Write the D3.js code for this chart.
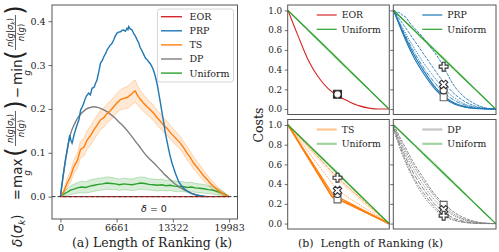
<!DOCTYPE html>
<html>
<head>
<meta charset="utf-8">
<script src="https://cdn.jsdelivr.net/npm/d3@7"></script>
<style>
  body { margin: 0; background: #fff; }
  svg { display: block; }
  text { font-family: "DejaVu Serif", serif; fill: #222; }
  .axis path.domain { display: none; }
  .axis line { stroke: #444; stroke-width: 0.8; }
</style>
</head>
<body>
<svg id="chart" width="499" height="252"></svg>
<script>
// ---- data: panel (a), delta vs ranking length ----
const N = 19983;
const kTicks = [0, 6661, 13322, 19983];
const deltaTicks = [0.0, 0.1, 0.2, 0.3, 0.4];
const seriesNames = ['EOR', 'PRP', 'TS', 'DP', 'Uniform'];
const seriesColors = ['#d62728', '#1f77b4', '#ff7f0e', '#7f7f7f', '#2ca02c'];

const eorDelta = [[0, 0], [19983, 0]];
const prpDelta = [[0,0],[300,0.045],[600,0.084],[900,0.118],[1100,0.14],[1250,0.128],[1380,0.122],[1450,0.127],
  [1600,0.14],[1780,0.152],[2000,0.165],[2200,0.176],[2400,0.198],[2600,0.205],[2800,0.215],[2950,0.224],
  [3100,0.23],[3350,0.236],[3550,0.232],[3750,0.247],[4000,0.25],[4150,0.258],[4330,0.266],[4550,0.285],
  [4740,0.304],[4950,0.31],[5140,0.319],[5350,0.326],[5540,0.335],[5750,0.341],[5920,0.346],[6100,0.349],
  [6310,0.357],[6500,0.366],[6710,0.373],[6900,0.375],[7110,0.376],[7300,0.379],[7490,0.38],[7700,0.377],
  [7890,0.384],[8000,0.381],[8100,0.388],[8250,0.383],[8490,0.38],[8700,0.371],[8890,0.366],[9100,0.357],
  [9270,0.351],[9450,0.34],[9670,0.332],[9850,0.325],[10070,0.316],[10250,0.313],[10470,0.307],[10650,0.303],
  [10850,0.296],[11050,0.287],[11250,0.274],[11450,0.258],[11650,0.236],[11850,0.214],[12050,0.19],
  [12250,0.168],[12430,0.145],[12630,0.126],[12830,0.107],[13030,0.09],[13230,0.076],[13430,0.064],
  [13630,0.053],[13830,0.043],[14010,0.034],[14300,0.026],[14610,0.019],[15000,0.013],[15410,0.008],
  [16000,0.004],[16590,0.002],[17400,0.0]];
const tsDelta = [[0,0],[400,0.012],[800,0.031],[1200,0.046],[1580,0.068],[2000,0.082],[2370,0.107],[2800,0.113],
  [3160,0.129],[3560,0.139],[3960,0.152],[4350,0.163],[4740,0.175],[5140,0.18],[5540,0.19],[5920,0.196],
  [6310,0.205],[6710,0.214],[7110,0.221],[7500,0.224],[7900,0.226],[8300,0.232],[8690,0.239],[8870,0.241],
  [9100,0.232],[9470,0.222],[9870,0.213],[10270,0.205],[10650,0.198],[11050,0.19],[11450,0.18],[11850,0.172],
  [12230,0.163],[12630,0.156],[13030,0.146],[13430,0.138],[13810,0.13],[14210,0.122],[14610,0.111],
  [15000,0.099],[15400,0.089],[15790,0.076],[16190,0.067],[16590,0.057],[16990,0.047],[17390,0.039],
  [17780,0.03],[18180,0.023],[18570,0.016],[18950,0.011],[19400,0.005],[19983,0]];
const tsSpread = [0,0.005,0.01,0.013,0.015,0.017,0.019,0.02,0.021,0.022,0.022,0.022,0.022,0.022,0.022,0.022,
  0.022,0.022,0.023,0.024,0.025,0.026,0.026,0.025,0.022,0.02,0.019,0.018,0.018,0.017,0.017,0.017,
  0.016,0.016,0.016,0.016,0.015,0.015,0.015,0.015,0.014,0.014,0.013,0.013,0.012,0.011,0.01,0.009,0.007,0.006,0.004,0];
const uniformDelta = [[0,0],[400,0.006],[800,0.01],[1200,0.015],[1600,0.017],[2000,0.02],[2500,0.022],[3000,0.021],
  [3500,0.024],[4000,0.026],[4500,0.028],[5000,0.029],[5500,0.031],[6000,0.03],[6500,0.029],[7000,0.027],
  [7500,0.029],[8000,0.028],[8500,0.027],[9000,0.029],[9500,0.031],[10000,0.03],[10500,0.028],[11000,0.027],
  [11500,0.026],[12000,0.027],[12500,0.025],[13000,0.026],[13500,0.024],[14000,0.023],[14500,0.023],
  [15000,0.021],[15500,0.022],[16000,0.02],[16500,0.019],[17000,0.018],[17500,0.016],[18000,0.015],
  [18500,0.012],[19000,0.009],[19500,0.005],[19983,0]];
const uniformSpread = [0,0.005,0.008,0.01,0.011,0.012,0.013,0.013,0.014,0.014,0.014,0.014,0.014,0.014,0.013,0.013,
  0.013,0.013,0.013,0.014,0.014,0.014,0.013,0.013,0.013,0.013,0.012,0.012,0.012,0.012,0.011,0.011,0.011,0.01,
  0.01,0.01,0.009,0.009,0.008,0.006,0.004,0];
const dpDelta = [[0,0],[200,0.03],[400,0.058],[600,0.084],[900,0.116],[1200,0.143],[1600,0.163],[2000,0.178],
  [2500,0.19],[3000,0.199],[3500,0.203],[3960,0.205],[4500,0.203],[5140,0.198],[5800,0.19],[6310,0.182],
  [6900,0.171],[7490,0.16],[8100,0.146],[8690,0.131],[9300,0.116],[9870,0.101],[10450,0.088],[11050,0.077],
  [11650,0.065],[12230,0.053],[12830,0.042],[13430,0.031],[14010,0.023],[14610,0.016],[15200,0.011],
  [15800,0.006],[16500,0.002],[17200,0.0]];

// ---- data: panel (b), costs vs fraction of ranking ----
const costTicks = [0.0, 0.2, 0.4, 0.6, 0.8, 1.0];
const costT = [0, 0.1, 0.2, 0.3, 0.4, 0.5, 0.6, 0.7, 0.8, 0.9, 1.0];
const uniformCost = [1, 0.9, 0.8, 0.7, 0.6, 0.5, 0.4, 0.3, 0.2, 0.1, 0];
const uniformCostSpread = [0, 0.01, 0.016, 0.02, 0.022, 0.022, 0.02, 0.016, 0.01, 0.005, 0];
const eorCost = [1, 0.742, 0.498, 0.325, 0.205, 0.13, 0.078, 0.035, 0.01, 0.0, 0.0];
const prpCostTop = [[0,1],[0.03,0.985],[0.06,0.975],[0.09,0.95],[0.12,0.93],[0.15,0.885],[0.2,0.825],[0.25,0.77],
  [0.3,0.71],[0.35,0.64],[0.4,0.575],[0.45,0.5],[0.49,0.43],[0.53,0.35],[0.56,0.29],[0.6,0.225],[0.65,0.165],
  [0.7,0.115],[0.75,0.08],[0.8,0.05],[0.85,0.028],[0.9,0.012],[0.95,0.003],[1,0]];
const prpCosts = [
  [1, 0.85, 0.7, 0.55, 0.4, 0.26, 0.15, 0.075, 0.03, 0.008, 0],
  [1, 0.8, 0.62, 0.46, 0.32, 0.2, 0.11, 0.05, 0.02, 0.005, 0],
  [1, 0.78, 0.58, 0.41, 0.27, 0.16, 0.085, 0.04, 0.015, 0.004, 0],
  [1, 0.76, 0.55, 0.38, 0.23, 0.125, 0.06, 0.025, 0.008, 0.002, 0],
  [1, 0.74, 0.52, 0.35, 0.21, 0.11, 0.05, 0.02, 0.006, 0.001, 0]
];
const tsCosts = [
  [[0,1],[0.49,0.465],[1,0]],
  [[0,1],[0.49,0.335],[1,0]],
  [[0,1],[0.44,0.3],[1,0]],
  [[0,1],[0.43,0.28],[0.6,0.2],[1,0]],
  [[0,1],[0.44,0.265],[0.55,0.22],[1,0]]
];
const dpCosts = [
  [1, 0.8, 0.61, 0.45, 0.3, 0.195, 0.11, 0.055, 0.02, 0.005, 0],
  [0.98, 0.74, 0.54, 0.38, 0.24, 0.145, 0.075, 0.035, 0.012, 0.002, 0],
  [0.96, 0.68, 0.46, 0.3, 0.17, 0.085, 0.035, 0.012, 0.003, 0, 0],
  [0.99, 0.77, 0.58, 0.42, 0.28, 0.17, 0.09, 0.04, 0.015, 0.003, 0],
  [0.97, 0.71, 0.5, 0.34, 0.2, 0.11, 0.05, 0.02, 0.005, 0.001, 0],
  [0.95, 0.66, 0.44, 0.27, 0.15, 0.07, 0.03, 0.01, 0.002, 0, 0]
];
const markerT = 0.49;
const eorMarkers = [['square', 0.15], ['x', 0.15], ['plus', 0.15]];
const prpMarkers = [['square', 0.12], ['circle', 0.19], ['x', 0.25], ['plus', 0.43]];
const tsMarkers = [['square', 0.245], ['circle', 0.3], ['x', 0.335], ['plus', 0.465]];
const dpMarkers = [['square', 0.19], ['x', 0.14], ['plus', 0.08]];

const svg = d3.select('#chart');

// ================= panel (a) =================
const A = {left: 52, right: 237.5, top: 5, bottom: 219};
const xA = d3.scaleLinear().domain([-999, 20982]).range([A.left, A.right]);
const yA = d3.scaleLinear().domain([-0.051, 0.437]).range([A.bottom, A.top]);

const gA = svg.append('g');
const lineA = d3.line().x(d => xA(d[0])).y(d => yA(d[1]));

function band(points, spread, color) {
  const area = d3.area()
    .x(d => xA(d[0]))
    .y0((d, i) => yA(d[1] - spread[i]))
    .y1((d, i) => yA(d[1] + spread[i]));
  gA.append('path').attr('d', area(points)).attr('fill', color).attr('fill-opacity', 0.18);
  [-1, 1].forEach(s => {
    gA.append('path')
      .attr('d', d3.line().x(d => xA(d[0])).y((d, i) => yA(d[1] + s * spread[i]))(points))
      .attr('fill', 'none').attr('stroke', color).attr('stroke-opacity', 0.35).attr('stroke-width', 0.8);
  });
}
band(tsDelta, tsSpread, seriesColors[2]);
band(uniformDelta, uniformSpread, seriesColors[4]);

gA.append('path').attr('d', lineA(uniformDelta)).attr('fill', 'none')
  .attr('stroke', seriesColors[4]).attr('stroke-width', 1.4);
gA.append('path').attr('d', d3.line().curve(d3.curveMonotoneX).x(d => xA(d[0])).y(d => yA(d[1]))(dpDelta))
  .attr('fill', 'none').attr('stroke', seriesColors[3]).attr('stroke-width', 1.4);
gA.append('path').attr('d', lineA(tsDelta)).attr('fill', 'none')
  .attr('stroke', seriesColors[2]).attr('stroke-width', 1.4);
gA.append('path').attr('d', lineA(prpDelta)).attr('fill', 'none')
  .attr('stroke', seriesColors[1]).attr('stroke-width', 1.4);
gA.append('path').attr('d', lineA(eorDelta)).attr('fill', 'none')
  .attr('stroke', seriesColors[0]).attr('stroke-width', 1.4);

// delta = 0 reference line
gA.append('line')
  .attr('x1', A.left).attr('x2', A.right).attr('y1', yA(0)).attr('y2', yA(0))
  .attr('stroke', '#333').attr('stroke-width', 1).attr('stroke-dasharray', '3.5,2');
gA.append('text').attr('x', 154).attr('y', 212).attr('text-anchor', 'middle')
  .style('font-family', 'DejaVu Sans').style('font-size', '9.5px')
  .html('<tspan font-style="italic">δ</tspan> = 0');

gA.append('rect').attr('x', A.left).attr('y', A.top)
  .attr('width', A.right - A.left).attr('height', A.bottom - A.top)
  .attr('fill', 'none').attr('stroke', '#555').attr('stroke-width', 1);

gA.append('g').attr('class', 'axis').attr('transform', `translate(${A.left},0)`)
  .call(d3.axisLeft(yA).tickValues(deltaTicks).tickFormat(d3.format('.1f')).tickSize(3.5).tickPadding(3))
  .selectAll('text').style('font-size', '9.5px').style('font-family', 'DejaVu Serif');
gA.append('g').attr('class', 'axis').attr('transform', `translate(0,${A.bottom})`)
  .call(d3.axisBottom(xA).tickValues(kTicks).tickFormat(d3.format('d')).tickSize(3.5).tickPadding(2))
  .selectAll('text').style('font-size', '9.5px').style('font-family', 'DejaVu Serif');

gA.append('text').attr('x', 152).attr('y', 247).attr('text-anchor', 'middle')
  .style('font-size', '12.5px').text('(a) Length of Ranking (k)');

// legend
const legA = gA.append('g');
legA.append('rect').attr('x', 157.5).attr('y', 9).attr('width', 76).attr('height', 73).attr('rx', 2.5)
  .attr('fill', '#fff').attr('fill-opacity', 0.85).attr('stroke', '#ccc').attr('stroke-width', 0.8);
seriesNames.forEach((name, i) => {
  const y = 16.7 + i * 14.1;
  legA.append('line').attr('x1', 161).attr('x2', 182).attr('y1', y).attr('y2', y)
    .attr('stroke', seriesColors[i]).attr('stroke-width', 1.4);
  legA.append('text').attr('x', 189.5).attr('y', y + 3.4).style('font-size', '9.5px').text(name);
});

// y label (math)
const yl = svg.append('g').attr('transform', 'rotate(-90)')
  .style('font-family', 'DejaVu Sans');
function mtext(a, b, size, html, anchor) {
  yl.append('text').attr('x', -a).attr('y', b).attr('text-anchor', anchor || 'start')
    .style('font-family', 'DejaVu Sans').style('font-size', size + 'px').html(html);
}
mtext(247, 22, 13.5, '<tspan font-style="italic">δ</tspan>(<tspan font-style="italic">σ</tspan><tspan font-style="italic" font-size="9" dy="3">k</tspan><tspan dy="-3">)</tspan>');
mtext(194.5, 22, 13.5, '=', 'middle');
mtext(188, 22, 13.5, 'max');
mtext(173, 30, 9, '<tspan font-style="italic">g</tspan>', 'middle');
mtext(152, 23, 24, '(', 'middle');
mtext(128.5, 13, 8.5, '<tspan font-style="italic">n</tspan>(<tspan font-style="italic">g</tspan>|<tspan font-style="italic">σ</tspan><tspan font-style="italic" font-size="6" dy="2">k</tspan><tspan dy="-2">)</tspan>', 'middle');
mtext(128.5, 23.5, 8.5, '<tspan font-style="italic">n</tspan>(<tspan font-style="italic">g</tspan>)', 'middle');
yl.append('line').attr('x1', -146).attr('x2', -111).attr('y1', 15.5).attr('y2', 15.5).attr('stroke', '#222').attr('stroke-width', 0.7);
mtext(105, 23, 24, ')', 'middle');
mtext(92.5, 22, 13.5, '−', 'middle');
mtext(85, 22, 13.5, 'min');
mtext(73, 30, 9, '<tspan font-style="italic">g</tspan>', 'middle');
mtext(55, 23, 24, '(', 'middle');
mtext(32.5, 13, 8.5, '<tspan font-style="italic">n</tspan>(<tspan font-style="italic">g</tspan>|<tspan font-style="italic">σ</tspan><tspan font-style="italic" font-size="6" dy="2">k</tspan><tspan dy="-2">)</tspan>', 'middle');
mtext(32.5, 23.5, 8.5, '<tspan font-style="italic">n</tspan>(<tspan font-style="italic">g</tspan>)', 'middle');
yl.append('line').attr('x1', -50).attr('x2', -15).attr('y1', 15.5).attr('y2', 15.5).attr('stroke', '#222').attr('stroke-width', 0.7);
mtext(10, 23, 24, ')', 'middle');

// ================= panel (b) =================
const cols = [[287.7, 389.3], [393.3, 496]];
const rows = [[5, 114.5], [119.5, 229]];
const panels = [
  {col: 0, row: 0, name: 'EOR', color: seriesColors[0], light: false, markers: eorMarkers},
  {col: 1, row: 0, name: 'PRP', color: seriesColors[1], light: false, markers: prpMarkers},
  {col: 0, row: 1, name: 'TS', color: seriesColors[2], light: true, markers: tsMarkers},
  {col: 1, row: 1, name: 'DP', color: seriesColors[3], light: true, markers: dpMarkers}
];
const dashes = ['3,1.2', '1.2,1', '4,1,1,1', '2,1', '5,1.5', '1.5,1.5'];

panels.forEach(p => {
  const [x0, x1] = cols[p.col], [y0, y1] = rows[p.row];
  const x = d3.scaleLinear().domain([-0.003, 1.003]).range([x0, x1]);
  const y = d3.scaleLinear().domain([-0.055, 1.055]).range([y1, y0]);
  const g = svg.append('g');
  const gridLine = d3.line().curve(d3.curveMonotoneX).x((d, i) => x(costT[i])).y(d => y(d));
  const pairLine = d3.line().x(d => x(d[0])).y(d => y(d[1]));

  // uniform band + line
  g.append('path')
    .attr('d', d3.area().x((d, i) => x(costT[i]))
      .y0((d, i) => y(d - uniformCostSpread[i])).y1((d, i) => y(d + uniformCostSpread[i]))(uniformCost))
    .attr('fill', seriesColors[4]).attr('fill-opacity', 0.2);

  if (p.name === 'EOR') {
    g.append('path').attr('d', gridLine(eorCost)).attr('fill', 'none')
      .attr('stroke', p.color).attr('stroke-width', 1.1);
  } else if (p.name === 'PRP') {
    prpCosts.forEach((c, i) => {
      g.append('path').attr('d', gridLine(c)).attr('fill', 'none')
        .attr('stroke', p.color).attr('stroke-width', i >= 3 ? 1.1 : 0.9)
        .attr('stroke-dasharray', i >= 3 ? null : dashes[i]);
    });
    g.append('path').attr('d', d3.line().curve(d3.curveMonotoneX).x(d => x(d[0])).y(d => y(d[1]))(prpCostTop))
      .attr('fill', 'none').attr('stroke', p.color).attr('stroke-width', 0.9).attr('stroke-dasharray', '3,1');
  } else if (p.name === 'TS') {
    g.append('path')
      .attr('d', d3.area().x(d => x(d[0])).y0(d => y(d[1] - 0.03)).y1(d => y(d[1] + 0.01))(tsCosts[0]))
      .attr('fill', p.color).attr('fill-opacity', 0.15);
    tsCosts.forEach((c, i) => {
      g.append('path').attr('d', pairLine(c)).attr('fill', 'none')
        .attr('stroke', p.color).attr('stroke-width', i >= 2 ? 1.3 : 0.9)
        .attr('stroke-opacity', i >= 2 ? 1 : 0.8)
        .attr('stroke-dasharray', i >= 2 ? null : dashes[i]);
    });
  } else {
    dpCosts.forEach((c, i) => {
      g.append('path').attr('d', gridLine(c)).attr('fill', 'none')
        .attr('stroke', p.color).attr('stroke-width', 0.9)
        .attr('stroke-dasharray', dashes[i]);
    });
  }
  g.append('path').attr('d', gridLine(uniformCost)).attr('fill', 'none')
    .attr('stroke', seriesColors[4]).attr('stroke-width', 1.3);

  // markers (EOR's three coincide, drawn as a dark square holding white glyphs)
  const stacked = p.name === 'EOR';
  p.markers.forEach(([shape, v]) => {
    const cx = x(markerT), cy = y(v);
    let sym;
    if (shape === 'square') sym = d3.symbol(d3.symbolSquare, stacked ? 64 : 48);
    else if (shape === 'circle') sym = d3.symbol(d3.symbolCircle, 40);
    else sym = d3.symbol(d3.symbolCross, stacked ? 22 : 44);
    g.append('path').attr('d', sym())
      .attr('transform', `translate(${cx},${cy})` + (shape === 'x' ? ' rotate(45)' : ''))
      .attr('fill', stacked && shape === 'square' ? '#222' : '#fff')
      .attr('stroke', stacked ? (shape === 'square' ? '#333' : 'none') : (shape === 'square' ? '#666' : '#333'))
      .attr('stroke-width', 1.1);
  });

  g.append('rect').attr('x', x0).attr('y', y0).attr('width', x1 - x0).attr('height', y1 - y0)
    .attr('fill', 'none').attr('stroke', '#555').attr('stroke-width', 1);

  const ax = g.append('g').attr('class', 'axis').attr('transform', `translate(${x0},0)`)
    .call(d3.axisLeft(y).tickValues(costTicks).tickFormat(d3.format('.1f')).tickSize(3).tickPadding(2.5));
  ax.selectAll('text').style('font-size', '8.8px').style('font-family', 'DejaVu Serif');
  if (p.col === 1) ax.selectAll('text').remove();

  // legend
  const lx = x0 + 29, ly = y0 + 10;
  [[p.name, p.color, !p.light ? 1 : 0.45], ['Uniform', seriesColors[4], !p.light ? 1 : 0.45]].forEach(([n, c, op], i) => {
    g.append('line').attr('x1', lx).attr('x2', lx + 20).attr('y1', ly + i * 14.3).attr('y2', ly + i * 14.3)
      .attr('stroke', c).attr('stroke-opacity', op).attr('stroke-width', p.light ? 2.2 : 1.2);
    g.append('text').attr('x', lx + 25).attr('y', ly + i * 14.3 + 3.3).style('font-size', '9.3px').text(n);
  });
});

svg.append('text').attr('transform', 'translate(263,125) rotate(-90)').attr('text-anchor', 'middle')
  .style('font-size', '12.5px').text('Costs');
svg.append('text').attr('x', 298).attr('y', 247).style('font-size', '11px').style('white-space', 'pre')
  .text('(b)  Length of Ranking (k)');
</script>
</body>
</html>
